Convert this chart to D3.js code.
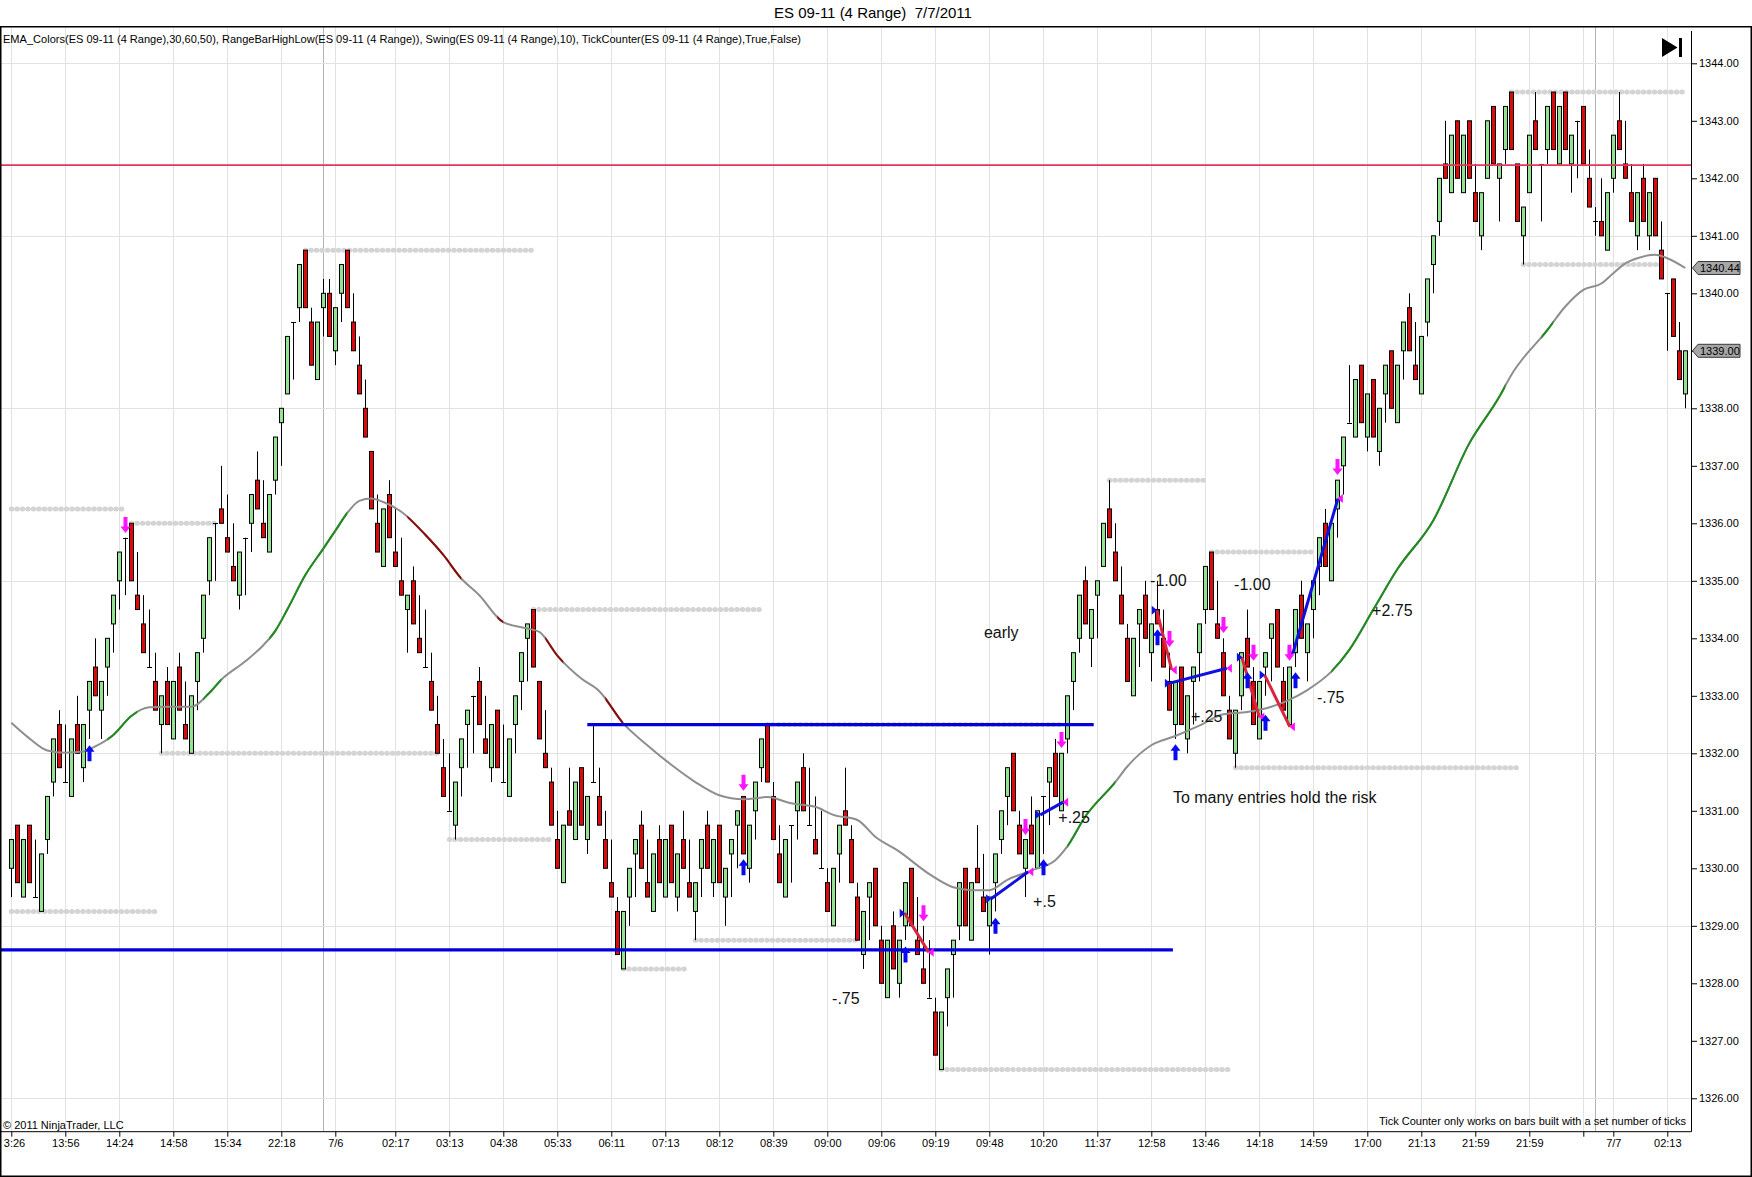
<!DOCTYPE html>
<html>
<head>
<meta charset="utf-8">
<script src="https://cdn.jsdelivr.net/npm/d3@7"></script>
<style>
  html, body { margin: 0; padding: 0; background: #fff; }
  svg { display: block; font-family: "Liberation Sans", Arial, sans-serif; }
</style>
</head>
<body>
<svg id="chart" width="1752" height="1177"></svg>
<script>
// range bars, one entry per bar (4 tick range)
const opens = [
  1330.0,1330.75,1329.5,1330.75,1329.5,1329.25,1330.5,1331.5,1332.5,1331.5,
  1331.25,1332.5,1331.75,1332.75,1333.5,1332.75,1333.5,1334.25,1335.0,1335.75,
  1336.0,1334.75,1334.25,1333.5,1333.25,1332.5,1333.25,1332.25,1333.5,1332.5,
  1332.0,1333.25,1334.0,1335.0,1336.0,1336.25,1335.75,1335.25,1334.75,1335.75,
  1336.0,1336.75,1336.0,1335.5,1336.75,1337.75,1338.25,1339.5,1339.75,1340.75,
  1339.5,1338.5,1339.75,1340.0,1339.0,1340.0,1340.75,1339.5,1338.75,1338.0,
  1337.25,1336.0,1335.25,1336.5,1335.5,1335.0,1334.5,1335.0,1334.0,1333.5,
  1333.25,1332.5,1331.75,1331.0,1330.75,1331.75,1332.5,1333.0,1333.25,1332.25,
  1331.75,1332.75,1331.5,1331.25,1332.5,1333.25,1334.0,1334.5,1333.25,1332.0,
  1331.5,1330.5,1329.75,1331.0,1330.5,1331.75,1330.5,1331.5,1331.25,1330.5,
  1329.75,1329.25,1328.25,1329.5,1330.25,1330.75,1329.75,1329.25,1330.5,1329.5,
  1330.75,1329.5,1330.5,1329.75,1329.25,1330.0,1330.75,1329.75,1330.75,1329.5,
  1330.25,1330.75,1331.25,1330.0,1331.0,1331.75,1332.5,1331.25,1330.25,1329.5,
  1330.75,1331.0,1331.75,1330.75,1330.5,1330.0,1329.75,1329.0,1330.25,1331.0,
  1330.5,1329.5,1328.5,1329.5,1330.0,1328.75,1327.75,1329.0,1328.0,1329.0,
  1330.0,1328.75,1328.25,1327.75,1327.5,1326.5,1327.75,1328.5,1329.0,1330.0,
  1328.75,1330.0,1329.5,1329.0,1329.75,1330.5,1331.25,1332.0,1330.75,1330.0,
  1330.75,1330.0,1331.25,1331.5,1332.0,1331.0,1332.25,1333.25,1334.0,1335.0,
  1334.0,1334.75,1335.25,1336.25,1335.5,1334.75,1334.0,1333.0,1334.25,1334.75,
  1333.75,1334.5,1334.0,1333.25,1332.5,1333.5,1332.25,1333.25,1333.75,1334.5,
  1335.5,1334.25,1333.75,1332.75,1332.0,1333.0,1334.0,1333.25,1332.25,1333.5,
  1334.0,1334.5,1333.25,1332.5,1333.75,1334.75,1333.75,1334.5,1335.25,1336.0,
  1335.0,1336.25,1337.0,1337.75,1337.5,1338.75,1337.5,1338.5,1337.25,1338.25,
  1339.0,1337.75,1339.0,1339.75,1338.75,1338.25,1339.5,1340.5,1341.25,1342.25,
  1341.75,1343.0,1341.75,1343.0,1341.75,1341.0,1342.0,1343.25,1342.0,1342.5,
  1343.5,1342.25,1341.0,1341.75,1343.0,1342.25,1342.5,1343.5,1342.25,1343.5,
  1342.25,1343.0,1343.25,1342.0,1341.25,1341.25,1340.75,1342.0,1343.0,1342.25,
  1341.75,1341.0,1342.0,1341.0,1342.0,1340.75,1340.0,1340.25,1339.0,1338.25
];
const highs = [
  1330.5,1330.75,1330.5,1330.75,1330.5,1330.25,1331.25,1332.25,1332.75,1332.5,
  1332.25,1333.0,1332.5,1333.25,1334.0,1333.25,1334.0,1334.75,1335.5,1335.75,
  1336.0,1335.5,1334.75,1334.5,1333.75,1333.0,1333.5,1333.25,1333.75,1333.25,
  1333.0,1333.75,1334.75,1335.75,1336.0,1337.0,1336.5,1336.0,1335.5,1335.75,
  1336.5,1337.25,1336.75,1336.5,1337.5,1338.0,1339.25,1339.5,1340.5,1340.75,
  1339.75,1339.5,1340.25,1340.25,1339.75,1340.5,1340.75,1340.0,1339.25,1338.5,
  1337.25,1336.5,1336.25,1336.75,1336.25,1335.75,1334.75,1335.25,1334.75,1334.5,
  1333.75,1333.0,1332.25,1332.0,1331.5,1332.25,1332.75,1333.0,1333.5,1333.0,
  1332.5,1332.75,1332.5,1332.25,1333.0,1333.75,1334.25,1334.5,1333.25,1332.75,
  1331.75,1331.0,1330.75,1331.75,1331.5,1331.75,1331.25,1332.5,1331.75,1331.0,
  1330.5,1329.5,1329.25,1330.0,1330.5,1331.0,1330.5,1330.25,1330.75,1330.5,
  1330.75,1330.25,1331.0,1330.5,1329.75,1330.5,1331.0,1330.5,1330.75,1330.0,
  1330.5,1331.0,1331.25,1330.75,1331.5,1332.25,1332.5,1331.5,1330.75,1330.5,
  1330.75,1331.5,1332.0,1331.75,1331.25,1331.0,1330.0,1330.0,1330.75,1331.75,
  1330.75,1329.75,1329.25,1329.75,1330.0,1329.0,1328.75,1329.25,1328.75,1329.75,
  1330.0,1329.5,1329.0,1328.75,1327.75,1327.5,1328.25,1328.75,1329.75,1330.0,
  1329.75,1330.75,1330.25,1329.5,1330.25,1331.0,1331.75,1332.0,1331.0,1330.5,
  1331.25,1331.0,1331.25,1331.75,1332.25,1332.0,1333.0,1333.75,1334.75,1335.25,
  1334.5,1335.0,1336.0,1336.75,1336.0,1335.25,1334.25,1334.0,1334.5,1335.0,
  1334.25,1335.0,1334.5,1333.75,1333.25,1333.5,1333.0,1333.5,1334.25,1335.25,
  1335.5,1335.0,1334.0,1333.0,1332.75,1333.75,1334.5,1333.5,1333.25,1333.75,
  1334.25,1334.5,1333.5,1333.5,1334.5,1335.0,1334.25,1335.0,1335.75,1336.25,
  1336.0,1336.75,1337.5,1338.75,1338.5,1338.75,1338.25,1338.5,1338.0,1338.75,
  1339.0,1338.75,1339.5,1340.0,1339.5,1339.25,1340.25,1341.0,1342.0,1343.0,
  1342.75,1343.0,1342.75,1343.0,1342.25,1341.75,1343.0,1343.25,1342.25,1343.25,
  1343.5,1342.25,1341.5,1342.75,1343.5,1342.25,1343.25,1343.5,1343.25,1343.5,
  1342.75,1343.0,1343.25,1342.5,1341.5,1342.0,1341.75,1342.75,1343.5,1343.0,
  1342.25,1341.75,1342.25,1341.75,1342.0,1341.25,1340.0,1340.25,1339.5,1339.0
];
const lows = [
  1329.5,1329.75,1329.5,1329.75,1329.5,1329.25,1330.25,1331.25,1331.75,1331.5,
  1331.25,1332.0,1331.5,1332.25,1333.0,1332.25,1333.0,1333.75,1334.5,1334.75,
  1335.0,1334.5,1333.75,1333.5,1332.75,1332.0,1332.5,1332.25,1332.75,1332.25,
  1332.0,1332.75,1333.75,1334.75,1335.0,1336.0,1335.5,1335.0,1334.5,1334.75,
  1335.5,1336.25,1335.75,1335.5,1336.5,1337.0,1338.25,1338.5,1339.5,1339.75,
  1338.75,1338.5,1339.25,1339.25,1338.75,1339.5,1339.75,1339.0,1338.25,1337.5,
  1336.25,1335.5,1335.25,1335.75,1335.25,1334.75,1333.75,1334.25,1333.75,1333.5,
  1332.75,1332.0,1331.25,1331.0,1330.5,1331.25,1331.75,1332.0,1332.5,1332.0,
  1331.5,1331.75,1331.5,1331.25,1332.0,1332.75,1333.25,1333.5,1332.25,1331.75,
  1330.75,1330.0,1329.75,1330.75,1330.5,1330.75,1330.25,1331.5,1330.75,1330.0,
  1329.5,1328.5,1328.25,1329.0,1329.5,1330.0,1329.5,1329.25,1329.75,1329.5,
  1329.75,1329.25,1330.0,1329.5,1328.75,1329.5,1330.0,1329.5,1329.75,1329.0,
  1329.5,1330.0,1330.25,1329.75,1330.5,1331.5,1331.5,1330.5,1329.75,1329.5,
  1329.75,1330.5,1331.0,1330.75,1330.25,1330.0,1329.25,1329.0,1329.75,1330.75,
  1329.75,1328.75,1328.25,1328.75,1329.0,1328.0,1327.75,1328.25,1327.75,1328.75,
  1329.0,1328.5,1328.0,1327.75,1326.75,1326.5,1327.25,1327.75,1328.75,1329.0,
  1328.75,1329.75,1329.25,1328.5,1329.25,1330.25,1330.75,1331.0,1330.25,1329.5,
  1330.25,1330.0,1330.25,1330.75,1331.25,1331.0,1332.0,1332.75,1333.75,1334.25,
  1333.5,1334.0,1335.25,1335.75,1335.0,1334.25,1333.25,1333.0,1333.5,1334.0,
  1333.25,1334.25,1333.5,1332.75,1332.25,1332.5,1332.0,1332.5,1333.25,1334.25,
  1334.5,1334.0,1333.0,1332.25,1331.75,1332.75,1333.5,1332.5,1332.25,1333.0,
  1333.25,1333.5,1332.75,1332.5,1333.5,1334.0,1333.25,1334.0,1334.75,1335.25,
  1335.0,1335.75,1336.5,1337.75,1337.5,1337.75,1337.25,1337.5,1337.0,1337.75,
  1338.0,1337.75,1338.5,1339.0,1338.5,1338.25,1339.25,1340.0,1341.0,1342.0,
  1341.75,1342.0,1341.75,1342.0,1341.25,1340.75,1342.0,1342.25,1341.25,1342.25,
  1342.5,1341.25,1340.5,1341.75,1342.5,1341.25,1342.25,1342.5,1342.25,1342.5,
  1341.75,1342.0,1342.25,1341.5,1341.0,1341.0,1340.75,1341.75,1342.5,1342.0,
  1341.25,1340.75,1341.25,1340.75,1341.0,1340.25,1339.0,1339.25,1338.5,1338.0
];
const closes = [
  1330.5,1329.75,1330.5,1329.75,1329.5,1330.25,1331.25,1332.25,1331.75,1331.5,
  1332.25,1332.0,1332.5,1333.25,1333.0,1333.25,1334.0,1334.75,1335.5,1335.75,
  1335.0,1334.5,1333.75,1333.5,1332.75,1333.0,1332.5,1333.25,1332.75,1332.25,
  1333.0,1333.75,1334.75,1335.75,1336.0,1336.0,1335.5,1335.0,1335.5,1335.75,
  1336.5,1336.25,1335.75,1336.5,1337.5,1338.0,1339.25,1339.5,1340.5,1339.75,
  1338.75,1339.5,1340.0,1339.25,1339.75,1340.5,1339.75,1339.0,1338.25,1337.5,
  1336.25,1335.5,1336.25,1335.75,1335.25,1334.75,1334.75,1334.25,1333.75,1333.5,
  1332.75,1332.0,1331.25,1331.0,1331.5,1332.25,1332.75,1333.0,1332.5,1332.0,
  1332.5,1331.75,1331.5,1332.25,1333.0,1333.75,1334.25,1333.5,1332.25,1331.75,
  1330.75,1330.0,1330.75,1330.75,1331.5,1330.75,1331.25,1331.5,1330.75,1330.0,
  1329.5,1328.5,1329.25,1330.0,1330.5,1330.0,1329.5,1330.25,1329.75,1330.5,
  1329.75,1330.25,1330.0,1329.5,1329.75,1330.5,1330.0,1330.5,1329.75,1330.0,
  1330.5,1331.0,1330.25,1330.75,1331.5,1332.25,1331.5,1330.5,1329.75,1330.5,
  1330.75,1331.5,1331.0,1330.75,1330.25,1330.0,1329.25,1330.0,1330.75,1330.75,
  1329.75,1328.75,1329.25,1329.75,1329.0,1328.0,1328.75,1328.25,1328.75,1329.75,
  1329.0,1328.5,1328.0,1327.75,1326.75,1327.5,1328.25,1328.75,1329.75,1329.0,
  1329.75,1329.75,1329.25,1329.5,1330.25,1331.0,1331.75,1331.0,1330.25,1330.5,
  1330.25,1331.0,1331.25,1331.75,1331.25,1332.0,1333.0,1333.75,1334.75,1334.25,
  1334.5,1335.0,1336.0,1335.75,1335.0,1334.25,1333.25,1334.0,1334.5,1334.0,
  1334.25,1334.25,1333.5,1332.75,1333.25,1332.5,1333.0,1333.5,1334.25,1335.25,
  1334.5,1334.0,1333.0,1332.25,1332.75,1333.75,1333.5,1332.5,1333.25,1333.75,
  1334.25,1333.5,1332.75,1333.5,1334.5,1334.0,1334.25,1335.0,1335.75,1335.25,
  1336.0,1336.75,1337.5,1337.75,1338.5,1337.75,1338.25,1337.5,1338.0,1338.75,
  1338.0,1338.75,1339.5,1339.0,1338.5,1339.25,1340.25,1341.0,1342.0,1342.0,
  1342.75,1342.0,1342.75,1342.0,1341.25,1341.75,1343.0,1342.25,1342.25,1343.25,
  1342.5,1341.25,1341.5,1342.75,1342.5,1342.25,1343.25,1342.5,1343.25,1342.5,
  1342.75,1343.0,1342.25,1341.5,1341.25,1341.0,1341.75,1342.75,1342.5,1342.0,
  1341.25,1341.75,1341.25,1341.75,1341.0,1340.25,1340.0,1339.25,1338.5,1339.0
];

// time axis (bar index of each label)
const tickIdx = [0,9,18,27,36,45,54,64,73,82,91,100,109,118,127,136,145,154,163,172,
                 181,190,199,208,217,226,235,244,253,262,267,276];
const tickLbl = ["3:26","13:56","14:24","14:58","15:34","22:18","7/6","02:17","03:13","04:38",
                 "05:33","06:11","07:13","08:12","08:39","09:00","09:06","09:19","09:48","10:20",
                 "11:37","12:58","13:46","14:18","14:59","17:00","21:13","21:59","21:59","","7/7","02:13"];
const sessionIdx = [52, 264];
const priceTicks = d3.range(1326, 1344.01, 1);
const priceGrid = [1326, 1329, 1332, 1335, 1338, 1341, 1344];

// EMA
const emaIdx = [0,3,6,9,12,14,17,20,23,26,30,33,35,39,42,44,46,49,52,54,56,58,60,62,65,69,72,75,78,82,
                86,88,91,95,98,102,106,110,114,118,122,126,130,134,137,141,144,148,153,157,160,163,166,
                170,174,176,179,184,186,190,194,198,202,206,210,213,216,220,223,227,231,237,243,248,250,
                256,259,262,265,267,269,271,274,276,279];
const emaVal = [1332.53,1332.26,1332.05,1332.01,1332.03,1332.12,1332.32,1332.65,1332.8,1332.81,1332.81,
                1333.05,1333.28,1333.6,1333.88,1334.13,1334.5,1335.1,1335.56,1335.87,1336.18,1336.39,
                1336.43,1336.37,1336.2,1335.8,1335.45,1335.04,1334.75,1334.28,1334.17,1334.11,1333.7,
                1333.3,1333.08,1332.52,1332.14,1331.8,1331.5,1331.27,1331.2,1331.24,1331.13,1331.07,
                1330.93,1330.84,1330.55,1330.29,1329.9,1329.67,1329.62,1329.62,1329.8,1329.96,1330.14,
                1330.38,1330.9,1331.5,1331.77,1332.14,1332.3,1332.48,1332.68,1332.72,1332.81,1332.93,
                1333.1,1333.42,1333.8,1334.5,1335.2,1336.05,1337.39,1338.2,1338.58,1339.36,1339.77,
                1340.06,1340.17,1340.35,1340.52,1340.61,1340.67,1340.61,1340.44];
const emaUp = [[16,21],[32,35],[43,56],[176,184],[220,249],[255,257]];
const emaDown = [[66,75],[81,82],[89,92],[99,102]];

// swing high / low dotted levels
const swingPrice = [1336.25,1336.0,1329.25,1332.0,1340.75,1330.5,1334.5,1328.25,1328.75,1332.5,
                    1326.5,1336.75,1335.5,1331.75,1343.5,1340.5];
const swingFrom = [0,20,0,25,49,73,87,102,114,126,155,183,200,204,250,252];
const swingTo = [19,34,24,71,87,90,125,113,141,175,203,199,217,251,279,275];

// drawn lines
const levelPrice = [1332.5, 1328.58];
const levelFrom = [96, -2];
const levelTo = [180.4, 193.6];
const redLevel = 1342.23;

// executions
const tradeX1 = [148.9,163.3,171.5,190.9,193.1,205.1,208.9,213.6];
const tradeP1 = [1329.22,1329.47,1330.93,1334.49,1333.22,1333.67,1333.36,1333.74];
const tradeX2 = [152.9,169.5,175.3,193.4,202.6,208.0,213.1,221.1];
const tradeP2 = [1328.54,1329.94,1331.15,1333.45,1333.48,1332.63,1332.46,1336.43];
const tradeClr = ["red","blue","blue","red","blue","red","red","blue"];
const upIdx = [13,122,149,164,172,191,194,206,209,214];
const upPrice = [1332.0,1330.02,1328.5,1329.0,1330.02,1334.02,1332.02,1333.27,1332.53,1333.27];
const dnIdx = [19,122,152,169,175,193,202,207,213,221];
const dnPrice = [1335.97,1331.49,1329.22,1330.72,1332.23,1333.99,1334.23,1333.75,1333.75,1336.98];

// hand notes
const noteText = ["-1.00","-1.00","early","+2.75","-.75","+.25","To many entries hold the risk","+.25","+.5","-.75"];
const noteIdx = [189.8,203.8,162.1,226.8,217.6,196.6,193.6,174.5,170.3,136.8];
const notePrice = [1335.0,1334.94,1334.11,1334.49,1332.98,1332.65,1331.24,1330.89,1329.43,1327.74];

const W = 1752, H = 1177;
const plotTop = 27, plotBottom = 1131.7, plotRight = 1691;

const svg = d3.select('#chart');
const x = d3.scaleLinear().domain([0, 279]).range([11.3, 1685.3]);
const y = d3.scaleLinear().domain([1326, 1344]).range([1098.3, 63.3]);

svg.append('rect').attr('width', W).attr('height', H).attr('fill', '#fff');

const defs = svg.append('defs');
defs.append('clipPath').attr('id', 'plot')
    .append('rect').attr('x', 1).attr('y', plotTop).attr('width', plotRight - 1).attr('height', plotBottom - plotTop);

// title
svg.append('text')
    .attr('x', 873).attr('y', 18)
    .attr('text-anchor', 'middle')
    .attr('font-size', 15)
    .text('ES 09-11 (4 Range)\u00A0\u00A07/7/2011');

const plot = svg.append('g').attr('clip-path', 'url(#plot)');

// grid
plot.selectAll('.vgrid')
    .data(tickIdx)
    .join('line')
    .attr('x1', d => Math.round(x(d)) + 0.5).attr('x2', d => Math.round(x(d)) + 0.5)
    .attr('y1', plotTop).attr('y2', plotBottom)
    .attr('stroke', '#e2e2e2');
plot.selectAll('.session')
    .data(sessionIdx)
    .join('line')
    .attr('x1', d => Math.round(x(d)) + 0.5).attr('x2', d => Math.round(x(d)) + 0.5)
    .attr('y1', plotTop).attr('y2', plotBottom)
    .attr('stroke', '#b4b4b4');
plot.selectAll('.hgrid')
    .data(priceGrid)
    .join('line')
    .attr('x1', 0).attr('x2', plotRight)
    .attr('y1', d => Math.round(y(d)) + 0.5).attr('y2', d => Math.round(y(d)) + 0.5)
    .attr('stroke', '#e2e2e2');

// indicator caption
svg.append('text')
    .attr('x', 3).attr('y', 43)
    .attr('font-size', 10.5)
    .attr('textLength', 798).attr('lengthAdjust', 'spacingAndGlyphs')
    .text('EMA_Colors(ES 09-11 (4 Range),30,60,50), RangeBarHighLow(ES 09-11 (4 Range)), Swing(ES 09-11 (4 Range),10), TickCounter(ES 09-11 (4 Range),True,False)');

// swing levels
plot.selectAll('.swing')
    .data(swingPrice)
    .join('line')
    .attr('x1', (d, i) => x(swingFrom[i])).attr('x2', (d, i) => x(swingTo[i]))
    .attr('y1', d => y(d)).attr('y2', d => y(d))
    .attr('stroke', '#d4d4d4')
    .attr('stroke-width', 5)
    .attr('stroke-linecap', 'round')
    .attr('stroke-dasharray', '0.5 5');

// candles
const bars = d3.range(opens.length);
const cx = i => Math.round(x(i));
const candle = plot.append('g').selectAll('g')
    .data(bars)
    .join('g');

candle.append('line')
    .attr('x1', i => cx(i) + 0.5).attr('x2', i => cx(i) + 0.5)
    .attr('y1', i => y(highs[i])).attr('y2', i => y(lows[i]))
    .attr('stroke', '#000');

candle.filter(i => opens[i] !== closes[i])
    .append('rect')
    .attr('x', i => cx(i) - 1.5)
    .attr('width', 4)
    .attr('y', i => y(Math.max(opens[i], closes[i])))
    .attr('height', i => Math.abs(y(opens[i]) - y(closes[i])))
    .attr('fill', i => closes[i] > opens[i] ? '#93e393' : '#dc0a0a')
    .attr('stroke', '#000');

candle.filter(i => opens[i] === closes[i])
    .append('line')
    .attr('x1', i => cx(i) - 2).attr('x2', i => cx(i) + 3)
    .attr('y1', i => Math.round(y(opens[i])) + 0.5).attr('y2', i => Math.round(y(opens[i])) + 0.5)
    .attr('stroke', '#000');

// EMA with slope colours
const emaPts = emaIdx.map((d, i) => [x(d), y(emaVal[i])]);
const emaPath = d3.line().curve(d3.curveMonotoneX)(emaPts);
plot.append('path')
    .attr('d', emaPath)
    .attr('fill', 'none')
    .attr('stroke', '#8e8e8e')
    .attr('stroke-width', 2);

function emaSegments(ranges, color, tag) {
    ranges.forEach(([a, b], k) => {
        const id = `ema-${tag}-${k}`;
        defs.append('clipPath').attr('id', id)
            .append('rect')
            .attr('x', x(a)).attr('width', x(b) - x(a))
            .attr('y', 0).attr('height', H);
        plot.append('path')
            .attr('d', emaPath)
            .attr('fill', 'none')
            .attr('stroke', color)
            .attr('stroke-width', 2)
            .attr('clip-path', `url(#${id})`);
    });
}
emaSegments(emaUp, '#1e8c1e', 'up');
emaSegments(emaDown, '#8a0c0c', 'dn');

// horizontal drawn levels
plot.append('line')
    .attr('x1', 0).attr('x2', plotRight)
    .attr('y1', y(redLevel)).attr('y2', y(redLevel))
    .attr('stroke', '#e5355a')
    .attr('stroke-width', 1.6);
plot.selectAll('.level')
    .data(levelPrice)
    .join('line')
    .attr('x1', (d, i) => x(levelFrom[i])).attr('x2', (d, i) => x(levelTo[i]))
    .attr('y1', d => y(d)).attr('y2', d => y(d))
    .attr('stroke', '#0000dc')
    .attr('stroke-width', 3.2);

// execution lines and markers
plot.selectAll('.trade')
    .data(tradeX1)
    .join('line')
    .attr('x1', d => x(d)).attr('y1', (d, i) => y(tradeP1[i]))
    .attr('x2', (d, i) => x(tradeX2[i])).attr('y2', (d, i) => y(tradeP2[i]))
    .attr('stroke', (d, i) => tradeClr[i] === 'red' ? '#d8263f' : '#1010e0')
    .attr('stroke-width', 3);

plot.selectAll('.entry')
    .data(tradeX1)
    .join('path')
    .attr('transform', (d, i) => `translate(${x(d) - 1},${y(tradeP1[i])})`)
    .attr('d', 'M-4,-4.5L1.5,0L-4,4.5Z')
    .attr('fill', '#1010e0');
plot.selectAll('.exit')
    .data(tradeX2)
    .join('path')
    .attr('transform', (d, i) => `translate(${x(d) + 1},${y(tradeP2[i])})`)
    .attr('d', 'M4,-4.5L-1.5,0L4,4.5Z')
    .attr('fill', '#ff10ff');

const upArrow = 'M0,-8L-5,-1.5L-2,-1.5L-2,8L2,8L2,-1.5L5,-1.5Z';
const dnArrow = 'M0,8L-5,1.5L-2,1.5L-2,-8L2,-8L2,1.5L5,1.5Z';
plot.selectAll('.up')
    .data(upIdx)
    .join('path')
    .attr('transform', (d, i) => `translate(${cx(d) + 0.5},${y(upPrice[i])})`)
    .attr('d', upArrow)
    .attr('fill', '#0a0aee');
plot.selectAll('.dn')
    .data(dnIdx)
    .join('path')
    .attr('transform', (d, i) => `translate(${cx(d) + 0.5},${y(dnPrice[i])})`)
    .attr('d', dnArrow)
    .attr('fill', '#ff14ff');

// notes
plot.selectAll('.note')
    .data(noteText)
    .join('text')
    .attr('x', (d, i) => x(noteIdx[i]))
    .attr('y', (d, i) => y(notePrice[i]))
    .attr('dy', '0.35em')
    .attr('font-size', 16)
    .attr('fill', '#111')
    .text(d => d);

// bottom captions
svg.append('text')
    .attr('x', 3).attr('y', 1129)
    .attr('font-size', 11)
    .text('\u00A9 2011 NinjaTrader, LLC');
svg.append('text')
    .attr('x', 1686).attr('y', 1124.5)
    .attr('text-anchor', 'end')
    .attr('font-size', 11)
    .text('Tick Counter only works on bars built with a set number of ticks');

// end-of-chart button
svg.append('path').attr('d', 'M1662,38L1662,57L1677.5,47.5Z').attr('fill', '#000');
svg.append('rect').attr('x', 1679).attr('y', 38).attr('width', 3).attr('height', 19).attr('fill', '#000');

// axes
const xAxis = svg.append('g')
    .attr('transform', `translate(0,${plotBottom})`)
    .call(d3.axisBottom(x).tickValues(tickIdx).tickFormat((d, i) => tickLbl[i]).tickSize(5).tickPadding(3));
xAxis.select('.domain').remove();
xAxis.selectAll('.tick line').attr('stroke', '#000');
xAxis.selectAll('.tick text').attr('font-size', 11).attr('font-family', '"Liberation Sans", Arial, sans-serif').attr('fill', '#000');
xAxis.selectAll('.tick').filter(d => d === 0).select('text').attr('text-anchor', 'start').attr('x', -8);

const yAxis = svg.append('g')
    .attr('transform', `translate(${plotRight},0)`)
    .call(d3.axisRight(y).tickValues(priceTicks).tickFormat(d3.format('.2f')).tickSize(6).tickPadding(2));
yAxis.select('.domain').remove();
yAxis.selectAll('.tick line').attr('stroke', '#000');
yAxis.selectAll('.tick text').attr('font-size', 11).attr('font-family', '"Liberation Sans", Arial, sans-serif').attr('fill', '#000');

svg.append('line')
    .attr('x1', 0).attr('x2', plotRight + 0.5)
    .attr('y1', plotBottom).attr('y2', plotBottom)
    .attr('stroke', '#000');
svg.append('line')
    .attr('x1', plotRight + 0.5).attr('x2', plotRight + 0.5)
    .attr('y1', 31).attr('y2', plotBottom)
    .attr('stroke', '#000');

// price markers (EMA value, last price)
const markers = [emaVal[emaVal.length - 1], closes[closes.length - 1]];
const mk = svg.selectAll('.marker')
    .data(markers)
    .join('g')
    .attr('transform', d => `translate(0,${y(d)})`);
mk.append('path')
    .attr('d', `M${plotRight + 1.5},0L${plotRight + 7},-6.5L1740,-6.5L1740,6.5L${plotRight + 7},6.5Z`)
    .attr('fill', '#a6a6a6')
    .attr('stroke', '#3a3a3a');
mk.append('text')
    .attr('x', plotRight + 9).attr('dy', '0.36em')
    .attr('font-size', 11)
    .text(d => d3.format('.2f')(d));

// frame
svg.append('rect')
    .attr('x', 0.75).attr('y', 26.75)
    .attr('width', W - 1.5).attr('height', H - 27.5)
    .attr('fill', 'none')
    .attr('stroke', '#000')
    .attr('stroke-width', 1.5);
</script>
</body>
</html>
